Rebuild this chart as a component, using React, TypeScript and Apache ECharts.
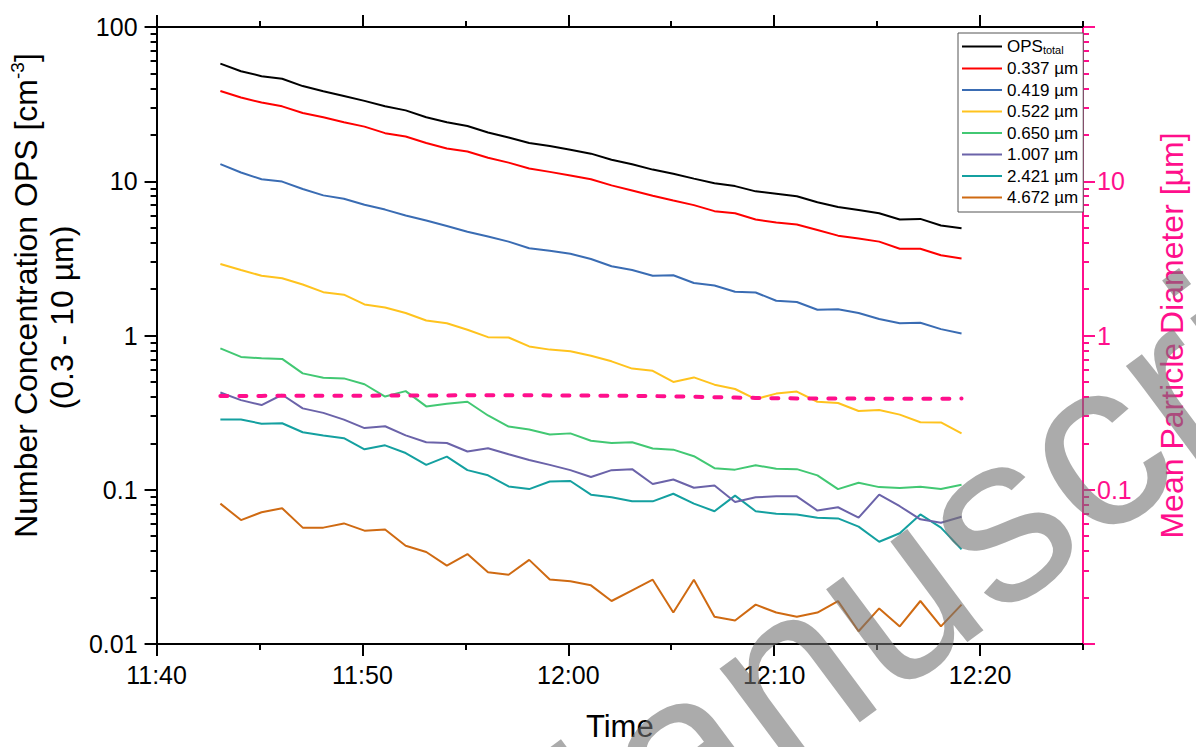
import React, { useEffect, useRef } from "react";
import * as echarts from "echarts";

// ---------- data ----------
const times = [
  "11:43:06", "11:44:06", "11:45:06", "11:46:06", "11:47:06", "11:48:06", "11:49:06", "11:50:06",
  "11:51:06", "11:52:06", "11:53:06", "11:54:06", "11:55:06", "11:56:06", "11:57:06", "11:58:06",
  "11:59:06", "12:00:06", "12:01:06", "12:02:06", "12:03:06", "12:04:06", "12:05:06", "12:06:06",
  "12:07:06", "12:08:06", "12:09:06", "12:10:06", "12:11:06", "12:12:06", "12:13:06", "12:14:06",
  "12:15:06", "12:16:06", "12:17:06", "12:18:06", "12:19:06",
];

const opsTotal = [57.9, 51.7, 48.0, 46.2, 41.4, 38.3, 35.7, 33.2, 30.6, 28.8, 26.0, 24.1, 22.8, 20.7, 19.2, 17.7, 16.9, 16.0, 15.1, 13.8, 12.9, 11.9, 11.2, 10.4, 9.7, 9.3, 8.6, 8.3, 8.0, 7.3, 6.8, 6.5, 6.2, 5.65, 5.7, 5.17, 4.95];
const d0337 = [38.5, 34.9, 32.4, 30.6, 27.7, 26.0, 24.1, 22.6, 20.5, 19.5, 17.7, 16.3, 15.6, 14.2, 13.2, 12.1, 11.5, 10.9, 10.3, 9.4, 8.7, 8.05, 7.5, 7.0, 6.4, 6.2, 5.65, 5.4, 5.25, 4.83, 4.44, 4.25, 4.06, 3.65, 3.65, 3.31, 3.16];
const d0419 = [12.9, 11.4, 10.3, 9.95, 8.9, 8.1, 7.7, 7.05, 6.55, 6.0, 5.57, 5.13, 4.71, 4.38, 4.06, 3.68, 3.54, 3.39, 3.13, 2.81, 2.66, 2.44, 2.46, 2.19, 2.11, 1.92, 1.9, 1.68, 1.65, 1.47, 1.48, 1.4, 1.28, 1.2, 1.21, 1.1, 1.03];
const d0522 = [2.91, 2.66, 2.44, 2.35, 2.14, 1.91, 1.84, 1.59, 1.52, 1.4, 1.25, 1.2, 1.09, 0.976, 0.971, 0.85, 0.81, 0.79, 0.74, 0.68, 0.61, 0.59, 0.5, 0.535, 0.48, 0.45, 0.387, 0.42, 0.433, 0.372, 0.365, 0.324, 0.329, 0.307, 0.274, 0.273, 0.232];
const d0650 = [0.826, 0.726, 0.712, 0.705, 0.568, 0.532, 0.527, 0.483, 0.402, 0.436, 0.347, 0.361, 0.372, 0.303, 0.257, 0.246, 0.228, 0.232, 0.208, 0.201, 0.203, 0.185, 0.182, 0.165, 0.138, 0.135, 0.144, 0.137, 0.136, 0.124, 0.101, 0.111, 0.104, 0.1025, 0.1045, 0.101, 0.1076];
const d1007 = [0.427, 0.381, 0.354, 0.413, 0.337, 0.315, 0.285, 0.251, 0.258, 0.225, 0.203, 0.201, 0.177, 0.186, 0.17, 0.156, 0.145, 0.134, 0.121, 0.134, 0.136, 0.109, 0.1165, 0.103, 0.1066, 0.0834, 0.0893, 0.0906, 0.0906, 0.0733, 0.077, 0.0659, 0.0929, 0.0782, 0.0643, 0.0611, 0.0668];
const d2421 = [0.285, 0.285, 0.268, 0.27, 0.236, 0.225, 0.216, 0.183, 0.194, 0.173, 0.145, 0.164, 0.134, 0.124, 0.105, 0.101, 0.113, 0.114, 0.0929, 0.0893, 0.0841, 0.0841, 0.0942, 0.0813, 0.0726, 0.0916, 0.0726, 0.0699, 0.0692, 0.0659, 0.0652, 0.0577, 0.046, 0.0522, 0.0692, 0.0568, 0.0411];
const d4672 = [0.0813, 0.0636, 0.0715, 0.0759, 0.0568, 0.0568, 0.0605, 0.0543, 0.0552, 0.0433, 0.0395, 0.0322, 0.0383, 0.0292, 0.0281, 0.0351, 0.0262, 0.0255, 0.024, 0.019, 0.0223, 0.0261, 0.016, 0.0261, 0.015, 0.0142, 0.018, 0.016, 0.015, 0.016, 0.019, 0.0121, 0.017, 0.013, 0.019, 0.013, 0.018];
const meanDiameter = [0.405, 0.405, 0.406, 0.407, 0.407, 0.407, 0.407, 0.407, 0.408, 0.408, 0.409, 0.409, 0.41, 0.41, 0.41, 0.41, 0.409, 0.409, 0.408, 0.407, 0.406, 0.405, 0.403, 0.401, 0.398, 0.396, 0.394, 0.392, 0.391, 0.39, 0.39, 0.39, 0.389, 0.389, 0.389, 0.389, 0.39];

const seriesNames = ["OPS_total", "0.337 µm", "0.419 µm", "0.522 µm", "0.650 µm", "1.007 µm", "2.421 µm", "4.672 µm"];
const seriesColors = ["#000000", "#FF0000", "#3A6CB3", "#FFC31E", "#42C873", "#6B63A9", "#14A0A0", "#CF6A12"];
const seriesValues = [opsTotal, d0337, d0419, d0522, d0650, d1007, d2421, d4672];

const xMajorTicks = [0, 10, 20, 30, 40];
const xMinorTicks = [5, 15, 25, 35, 45];
const rightLabels = [0.1, 1, 10];

const PINK = "#FF0F8C";
const FONT = "'Liberation Sans', Arial, sans-serif";

// minutes after 11:40
const toMin = (t: string) => {
  const [h, m, s] = t.split(":").map(Number);
  return h * 60 + m + s / 60 - (11 * 60 + 40);
};
const fmtTime = (v: number) => {
  const total = 11 * 60 + 40 + Math.round(v);
  const h = Math.floor(total / 60);
  const m = total % 60;
  return `${h}:${m < 10 ? "0" + m : m}`;
};
const fmtLog = (v: number) => String(Number(v.toPrecision(6)));

const logMinor: number[] = [];
for (const n of [-2, -1, 0, 1]) {
  for (let k = 2; k <= 9; k++) logMinor.push(Math.log10(k) + n);
}

export default function App() {
  const ref = useRef<HTMLDivElement>(null);
  useEffect(() => {
    document.body.style.margin = "0";
    const chart = echarts.init(ref.current!, undefined, { renderer: "svg", width: 1196, height: 747 });
    const xs = times.map(toMin);
    const hidden = { show: false };
    const option: any = {
      animation: false,
      backgroundColor: "#ffffff",
      textStyle: { fontFamily: FONT },
      grid: { left: 156, right: 104, top: 27, bottom: 96 },
      legend: {
        data: seriesNames,
        orient: "vertical",
        left: 958,
        top: 33,
        padding: [5, 5, 6, 4],
        icon: "rect",
        itemWidth: 40,
        itemHeight: 2,
        itemGap: 4.5,
        borderColor: "#555",
        borderWidth: 1,
        backgroundColor: "#fff",
        formatter: (name: string) =>
          name === "OPS_total" ? "{m|OPS}{s|total}" : `{m|${name}}`,
        textStyle: {
          color: "#000",
          fontSize: 17,
          fontFamily: FONT,
          rich: {
            m: { fontSize: 17, lineHeight: 18, fontFamily: FONT, color: "#000" },
            s: { fontSize: 11, lineHeight: 9, verticalAlign: "bottom", fontFamily: FONT, color: "#000" },
          },
        },
      },
      xAxis: [
        {
          type: "value",
          position: "bottom",
          min: 0,
          max: 45,
          name: "Time",
          nameLocation: "middle",
          nameGap: 67,
          nameTextStyle: { fontSize: 31, color: "#000", fontFamily: FONT },
          axisLine: { onZero: false, lineStyle: { color: "#000", width: 2 } },
          axisTick: { customValues: xMajorTicks, length: 12, lineStyle: { color: "#000", width: 2 } },
          axisLabel: {
            customValues: xMajorTicks,
            formatter: fmtTime,
            fontSize: 25,
            color: "#000",
            margin: 18,
            fontFamily: FONT,
          },
          splitLine: hidden,
        },
        {
          type: "value",
          position: "bottom",
          min: 0,
          max: 45,
          axisLine: { show: false, onZero: false },
          axisTick: { customValues: xMinorTicks, length: 6, lineStyle: { color: "#000", width: 2 } },
          axisLabel: hidden,
          splitLine: hidden,
        },
        {
          type: "value",
          position: "top",
          min: 0,
          max: 45,
          axisLine: { onZero: false, lineStyle: { color: "#000", width: 2 } },
          axisTick: { customValues: xMajorTicks, length: 12, lineStyle: { color: "#000", width: 2 } },
          axisLabel: hidden,
          splitLine: hidden,
        },
        {
          type: "value",
          position: "top",
          min: 0,
          max: 45,
          axisLine: { show: false, onZero: false },
          axisTick: { customValues: xMinorTicks, length: 6, lineStyle: { color: "#000", width: 2 } },
          axisLabel: hidden,
          splitLine: hidden,
        },
      ],
      yAxis: [
        {
          type: "log",
          logBase: 10,
          position: "left",
          min: 0.01,
          max: 100,
          name: "{a|Number Concentration OPS [cm}{sup|-3}{a|]}\n{b|(0.3 - 10 µm)}",
          nameLocation: "middle",
          nameGap: 69,
          nameTextStyle: {
            color: "#000",
            fontFamily: FONT,
            padding: [0, 0, 0, 80],
            rich: {
              a: { fontSize: 32, lineHeight: 36, fontFamily: FONT, color: "#000" },
              b: { fontSize: 32, lineHeight: 36, fontFamily: FONT, color: "#000", padding: [0, 44, 0, 0] },
              sup: { fontSize: 19, lineHeight: 20, verticalAlign: "top", fontFamily: FONT, color: "#000" },
            },
          },
          axisLine: { onZero: false, lineStyle: { color: "#000", width: 2 } },
          axisTick: { length: 12, lineStyle: { color: "#000", width: 2 } },
          axisLabel: { formatter: fmtLog, fontSize: 25, color: "#000", margin: 19, fontFamily: FONT },
          splitLine: hidden,
        },
        {
          type: "value",
          position: "left",
          min: -2,
          max: 2,
          axisLine: { show: false, onZero: false },
          axisTick: { customValues: logMinor, length: 6, lineStyle: { color: "#000", width: 2 } },
          axisLabel: hidden,
          splitLine: hidden,
        },
        {
          type: "log",
          logBase: 10,
          position: "right",
          min: 0.01,
          max: 100,
          name: "Mean Particle Diameter [µm]",
          nameLocation: "middle",
          nameGap: 73,
          nameTextStyle: { fontSize: 32, color: PINK, fontFamily: FONT },
          axisLine: { onZero: false, lineStyle: { color: PINK, width: 2 } },
          axisTick: { length: 12, lineStyle: { color: PINK, width: 2 } },
          axisLabel: {
            formatter: (v: number) => {
              const s = fmtLog(v);
              return rightLabels.map(String).includes(s) ? s : "";
            },
            fontSize: 25,
            color: PINK,
            margin: 14,
            fontFamily: FONT,
          },
          splitLine: hidden,
        },
        {
          type: "value",
          position: "right",
          min: -2,
          max: 2,
          axisLine: { show: false, onZero: false },
          axisTick: { customValues: logMinor, length: 6, lineStyle: { color: PINK, width: 2 } },
          axisLabel: hidden,
          splitLine: hidden,
        },
      ],
      series: [
        ...seriesNames.map((name, i) => ({
          name,
          type: "line",
          xAxisIndex: 0,
          yAxisIndex: 0,
          symbol: "none",
          showSymbol: false,
          data: xs.map((x, j) => [x, seriesValues[i][j]]),
          lineStyle: { color: seriesColors[i], width: 2 },
          itemStyle: { color: seriesColors[i] },
          z: 10 - i,
        })),
        {
          name: "Mean Particle Diameter",
          type: "line",
          xAxisIndex: 0,
          yAxisIndex: 2,
          symbol: "none",
          showSymbol: false,
          data: xs.map((x, j) => [x, meanDiameter[j]]),
          lineStyle: { color: PINK, width: 4, type: [7, 12], cap: "round" },
          itemStyle: { color: PINK },
          z: 12,
        },
      ],
      graphic: [
        {
          type: "text",
          x: 936,
          y: 562,
          rotation: 0.64,
          silent: true,
          z: 100,
          style: {
            text: "Manuscript",
            fontSize: 240,
            fontFamily: FONT,
            fill: "rgba(115,115,115,0.6)",
            textAlign: "center",
            textVerticalAlign: "middle",
          },
        },
      ],
    };
    chart.setOption(option);
    return () => chart.dispose();
  }, []);
  return (
    <div
      ref={ref}
      style={{ position: "fixed", left: 0, top: 0, width: 1196, height: 747 }}
    />
  );
}
